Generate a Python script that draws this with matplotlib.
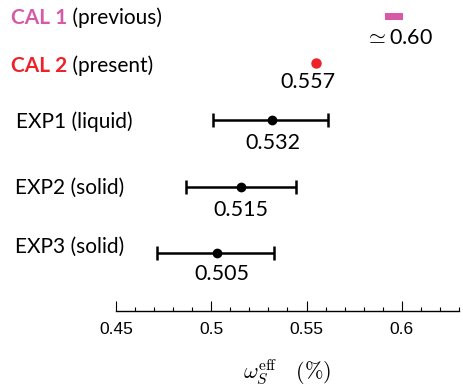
import matplotlib.pyplot as plt
import matplotlib.transforms as mtransforms
from matplotlib.ticker import MultipleLocator

plt.rcParams["mathtext.fontset"] = "cm"

# rows, top to bottom
row_names = ["CAL 1", "CAL 2", "EXP1 (liquid)", "EXP2 (solid)", "EXP3 (solid)"]
row_notes = [" (previous)", " (present)", "", "", ""]
value_labels = [r"$\simeq$0.60", "0.557", "0.532", "0.515", "0.505"]

cal1_lo, cal1_hi = 0.5912, 0.6007
cal2_value = 0.555
exp_values = [0.532, 0.5155, 0.503]
exp_err_lo = [0.031, 0.029, 0.0315]
exp_err_hi = [0.0295, 0.029, 0.030]

# layout (pixel rows, axes y runs in pixels from the top)
row_y = [16.7, 63, 120, 186.7, 252.7]
label_x = [11, 11, 16, 15, 15]
label_y = [17.5, 66, 122, 187.5, 247]
value_xy = [(0.5985, 38), (0.5505, 81.7), (0.5325, 143), (0.5155, 209.5), (0.5055, 274)]
pink = "#d75aa9"
red = "#ee2129"

W, H = 464, 390
fig = plt.figure(figsize=(W / 100, H / 100), dpi=100)
ax_bottom = 310.7
ax = fig.add_axes([116 / W, (H - ax_bottom) / H, 343 / W, ax_bottom / H])
ax.set_xlim(0.45, 0.63)
ax.set_ylim(ax_bottom, 0)

for s in ["top", "left", "right"]:
    ax.spines[s].set_visible(False)
ax.spines["bottom"].set_linewidth(1.0)
ax.set_yticks([])
ax.xaxis.set_minor_locator(MultipleLocator(0.01))
ax.set_xticks([0.45, 0.5, 0.55, 0.6])
ax.set_xticklabels(["0.45", "0.5", "0.55", "0.6"], family="Liberation Sans", fontsize=12.5)
ax.tick_params(axis="x", which="major", direction="in", length=7.5, width=0.8, pad=8)
ax.tick_params(axis="x", which="minor", direction="in", length=3, width=0.8)

ax.set_xlabel(r"$\omega_S^{\mathrm{eff}}\quad(\%)$", fontsize=16, labelpad=15)

# marks
ax.barh(row_y[0], cal1_hi - cal1_lo, left=cal1_lo, height=6.7, color=pink)
ax.plot([cal2_value], [row_y[1]], "o", color=red, markersize=6.5)
ax.errorbar(exp_values, row_y[2:], xerr=[exp_err_lo, exp_err_hi], fmt="o",
            color="black", markersize=6, elinewidth=1.8, capsize=5, capthick=1.8)

# value labels
txt = dict(family=["Lato", "DejaVu Sans"], fontsize=15.5, ha="center", va="center")
for (vx, vy), s in zip(value_xy, value_labels):
    ax.text(vx, vy, s, **txt)

# row labels
trans = mtransforms.blended_transform_factory(fig.transFigure, ax.transData)
name_colors = [pink, red, "black", "black", "black"]
for i, name in enumerate(row_names):
    bold = i < 2
    t = ax.text(label_x[i] / W, label_y[i], name, transform=trans, family="Lato",
                fontsize=15, color=name_colors[i], va="center",
                weight="bold" if bold else "normal")
    if row_notes[i]:
        ax.annotate(row_notes[i], xy=(1, 0.5), xycoords=t, family="Lato",
                    fontsize=15, color="black", va="center", ha="left")

fig.savefig("out.png", dpi=100)
